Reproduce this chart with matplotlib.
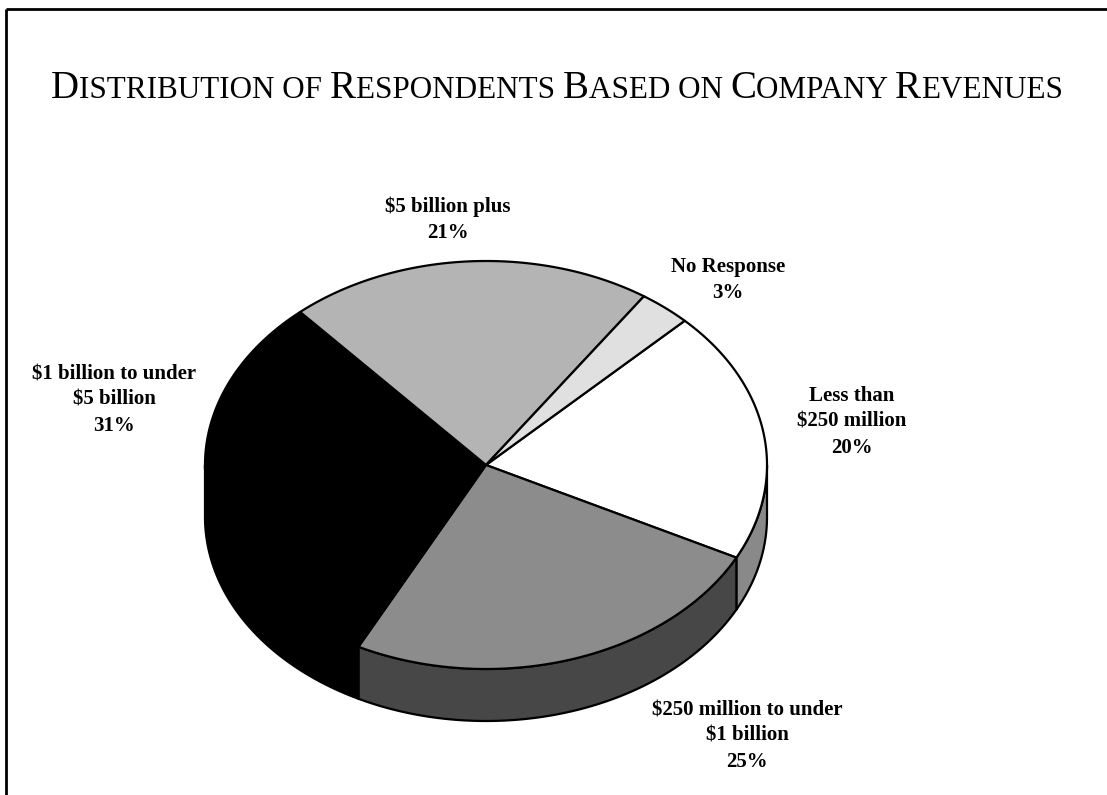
import numpy as np
import matplotlib
matplotlib.use("Agg")
import matplotlib.pyplot as plt
from matplotlib.patches import Polygon
from matplotlib.font_manager import FontProperties

# ---- data -------------------------------------------------------------
categories = [
    "Less than\n$250 million",
    "$250 million to under\n$1 billion",
    "$1 billion to under\n$5 billion",
    "$5 billion plus",
    "No Response",
]
shares = [20, 25, 31, 21, 3]          # percent of respondents
title_text = "Distribution of Respondents Based on Company Revenues"

# ---- styling / layout -------------------------------------------------
top_colors = ["#ffffff", "#8c8c8c", "#000000", "#b4b4b4", "#e0e0e0"]
side_colors = ["#898989", "#474747", "#000000", "#5a5a5a", "#707070"]
label_pos = [(852, 422), (747, 736), (114, 400), (448, 220), (728, 280)]

W, H = 1107, 795
cx, cy = 486, 465          # centre of the top face
rx, ry = 281, 204          # semi-axes of the top ellipse
depth = 52                 # thickness of the disc
start_angle = 45.0         # first slice starts here, slices run clockwise

serif = ["Liberation Serif", "DejaVu Serif"]

fig = plt.figure(figsize=(W / 100, H / 100), dpi=100)
ax = fig.add_axes([0, 0, 1, 1])
ax.set_xlim(0, W)
ax.set_ylim(H, 0)
ax.axis("off")


def ellipse_pts(t0, t1, dy=0.0, n=200):
    t = np.radians(np.linspace(t0, t1, n))
    return np.column_stack([cx + rx * np.cos(t), cy - ry * np.sin(t) + dy])


# slice boundaries (parametric angles on the ellipse)
fractions = np.array(shares, dtype=float) / np.sum(shares)
bounds = start_angle - 360.0 * np.concatenate([[0], np.cumsum(fractions)])

# front sides of the disc
for i in range(len(shares)):
    hi_a, lo_a = bounds[i], bounds[i + 1]
    for k in (-360, 0, 360):
        lo = max(lo_a + k, 180.0)
        hi = min(hi_a + k, 360.0)
        if hi > lo:
            top = ellipse_pts(lo, hi)
            bot = ellipse_pts(hi, lo, dy=depth)
            ax.add_patch(Polygon(np.vstack([top, bot]), closed=True,
                                 facecolor=side_colors[i], edgecolor="black",
                                 linewidth=1.6, joinstyle="round"))

# top faces
for i in range(len(shares)):
    arc = ellipse_pts(bounds[i], bounds[i + 1])
    pts = np.vstack([[cx, cy], arc])
    ax.add_patch(Polygon(pts, closed=True, facecolor=top_colors[i],
                         edgecolor="black", linewidth=1.6, joinstyle="round"))

# data labels
for i, (name, v) in enumerate(zip(categories, shares)):
    x, y = label_pos[i]
    ax.text(x, y, f"{name}\n{v}%", ha="center", va="center",
            multialignment="center", fontsize=15, fontweight="bold",
            family=serif, linespacing=1.38, color="black")

# frame lines (top and left)
ax.plot([6, W], [9, 9], color="black", lw=2.0, solid_capstyle="butt")
ax.plot([6, 6], [9, H], color="black", lw=2.0, solid_capstyle="butt")

# ---- small-caps title --------------------------------------------------
runs = []
for ch in title_text:
    is_big = ch.isupper()
    if ch == " ":
        is_big = runs[-1][1] if runs else False
    if runs and runs[-1][1] == is_big:
        runs[-1][0] += ch.upper()
    else:
        runs.append([ch.upper(), is_big])

fig.canvas.draw()
renderer = fig.canvas.get_renderer()


def run_width(s, size):
    fp = FontProperties(family=serif, size=size)
    w1, _, _ = renderer.get_text_width_height_descent(s + "I", fp, ismath=False)
    w2, _, _ = renderer.get_text_width_height_descent("I", fp, ismath=False)
    return w1 - w2


title_span = (50, 1064)
small_ratio = 0.8
base = 20.0
w0 = sum(run_width(s, base if b else base * small_ratio) for s, b in runs)
big_size = base * (title_span[1] - title_span[0]) / w0
small_size = big_size * small_ratio

widths = [run_width(s, big_size if b else small_size) for s, b in runs]
x = (title_span[0] + title_span[1]) / 2 - sum(widths) / 2
baseline = 98
for (s, b), w in zip(runs, widths):
    ax.text(x, baseline, s, ha="left", va="baseline",
            fontsize=big_size if b else small_size, family=serif,
            color="black")
    x += w

fig.savefig("out.png", dpi=100)
